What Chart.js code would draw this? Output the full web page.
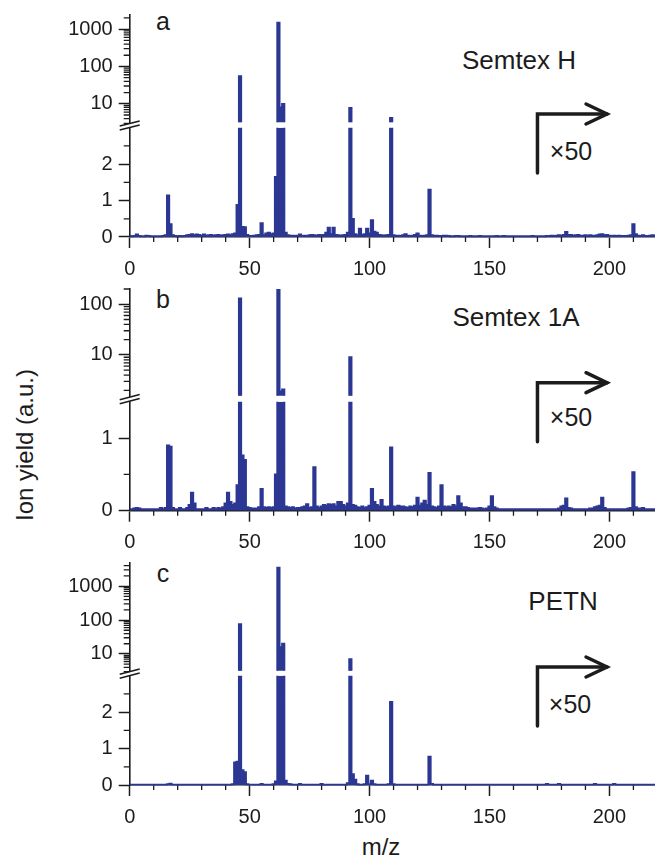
<!DOCTYPE html>
<html>
<head>
<meta charset="utf-8">
<script src="https://cdn.jsdelivr.net/npm/chart.js@4.4.1/dist/chart.umd.min.js"></script>
<style>
  html, body { margin: 0; padding: 0; background: #fff; }
  #fig { position: relative; width: 655px; height: 859px; overflow: hidden;
         font-family: "Liberation Sans", Arial, sans-serif; color: #1c1c1c; }
  #fig canvas { position: absolute; left: 0; top: 0; }
  .lbl { position: absolute; white-space: nowrap; line-height: 1; transform: translate(-50%, -50%); }
  .ylab { font-size: 24px; transform: translate(-50%, -50%) rotate(-90deg); }
  .xlab { font-size: 24px; }
  .letter { font-size: 25px; }
  .name { font-size: 26px; }
  .mult { font-size: 25px; }
</style>
</head>
<body>
<div id="fig">
  <div class="lbl ylab" style="left:25px; top:445px;">Ion yield (a.u.)</div>
  <div class="lbl xlab" style="left:381px; top:847px;">m/z</div>

  <div class="lbl letter" style="left:163px; top:21px;">a</div>
  <div class="lbl letter" style="left:163px; top:299px;">b</div>
  <div class="lbl letter" style="left:163px; top:573px;">c</div>

  <div class="lbl name" style="left:519px; top:60px;">Semtex H</div>
  <div class="lbl name" style="left:516px; top:317px;">Semtex 1A</div>
  <div class="lbl name" style="left:563px; top:601px;">PETN</div>

  <div class="lbl mult" style="left:571px; top:151px;">×50</div>
  <div class="lbl mult" style="left:571px; top:417px;">×50</div>
  <div class="lbl mult" style="left:570px; top:704px;">×50</div>
</div>
<script>
// ion yield per integer m/z, index = m/z (0..219)
const semtexH = [
    0.03, 0.02, 0.03, 0.07, 0.03, 0.02, 0.02, 0.04, 0.03, 0.02,
    0.02, 0.02, 0.02, 0.02, 0.03, 0.05, 1.14, 0.35, 0.05, 0.03,
    0.02, 0.03, 0.02, 0.03, 0.05, 0.06, 0.08, 0.05, 0.07, 0.06,
    0.04, 0.07, 0.04, 0.05, 0.06, 0.04, 0.05, 0.06, 0.04, 0.05,
    0.06, 0.07, 0.05, 0.08, 0.1, 0.88, 55, 0.28, 0.27, 0.06,
    0.03, 0.03, 0.04, 0.05, 0.06, 0.38, 0.05, 0.1, 0.12, 0.08,
    0.1, 1.65, 1500, 8, 10, 0.12, 0.05, 0.04, 0.04, 0.03,
    0.04, 0.07, 0.03, 0.04, 0.03, 0.05, 0.06, 0.05, 0.04, 0.06,
    0.05, 0.06, 0.12, 0.26, 0.08, 0.26, 0.06, 0.05, 0.04, 0.05,
    0.06, 0.12, 7.8, 0.5, 0.08, 0.05, 0.23, 0.06, 0.08, 0.23,
    0.1, 0.46, 0.15, 0.12, 0.06, 0.05, 0.04, 0.05, 0.06, 4.2,
    0.05, 0.04, 0.04, 0.03, 0.05, 0.08, 0.04, 0.03, 0.04, 0.06,
    0.1, 0.04, 0.03, 0.04, 0.05, 1.3, 0.05, 0.04, 0.04, 0.03,
    0.03, 0.04, 0.04, 0.03, 0.02, 0.02, 0.03, 0.03, 0.02, 0.02,
    0.02, 0.02, 0.03, 0.02, 0.02, 0.02, 0.03, 0.02, 0.02, 0.02,
    0.02, 0.02, 0.02, 0.03, 0.02, 0.02, 0.03, 0.02, 0.02, 0.02,
    0.02, 0.02, 0.02, 0.02, 0.02, 0.02, 0.02, 0.02, 0.03, 0.02,
    0.02, 0.02, 0.02, 0.02, 0.03, 0.03, 0.04, 0.03, 0.04, 0.05,
    0.04, 0.06, 0.14, 0.06, 0.06, 0.04, 0.05, 0.06, 0.04, 0.04,
    0.05, 0.04, 0.05, 0.04, 0.04, 0.05, 0.07, 0.08, 0.05, 0.06,
    0.04, 0.03, 0.04, 0.03, 0.04, 0.03, 0.03, 0.03, 0.04, 0.05,
    0.35, 0.08, 0.04, 0.03, 0.05, 0.03, 0.03, 0.04, 0.05, 0.04
];
const semtex1A = [
    0.02, 0.02, 0.03, 0.04, 0.03, 0.02, 0.02, 0.02, 0.02, 0.02,
    0.02, 0.02, 0.02, 0.04, 0.02, 0.04, 0.9, 0.88, 0.04, 0.02,
    0.02, 0.04, 0.02, 0.02, 0.04, 0.08, 0.25, 0.1, 0.02, 0.02,
    0.02, 0.02, 0.04, 0.02, 0.02, 0.04, 0.02, 0.04, 0.03, 0.05,
    0.1, 0.25, 0.12, 0.08, 0.1, 0.35, 130, 0.76, 0.7, 0.05,
    0.04, 0.03, 0.03, 0.03, 0.05, 0.3, 0.05, 0.04, 0.05, 0.04,
    0.05, 0.5, 230, 1.9, 2.1, 0.06, 0.05, 0.04, 0.05, 0.03,
    0.04, 0.04, 0.05, 0.06, 0.09, 0.04, 0.05, 0.6, 0.06, 0.04,
    0.06, 0.08, 0.07, 0.09, 0.08, 0.09, 0.06, 0.12, 0.12, 0.08,
    0.06, 0.1, 9, 0.08, 0.07, 0.05, 0.04, 0.06, 0.04, 0.05,
    0.07, 0.3, 0.12, 0.08, 0.06, 0.15, 0.06, 0.05, 0.06, 0.87,
    0.06, 0.05, 0.07, 0.06, 0.06, 0.05, 0.04, 0.06, 0.05, 0.07,
    0.18, 0.07, 0.1, 0.14, 0.08, 0.52, 0.06, 0.05, 0.04, 0.06,
    0.35, 0.06, 0.05, 0.06, 0.05, 0.08, 0.06, 0.2, 0.1, 0.05,
    0.05, 0.04, 0.03, 0.03, 0.03, 0.03, 0.04, 0.03, 0.02, 0.03,
    0.06, 0.2, 0.05, 0.03, 0.02, 0.02, 0.02, 0.02, 0.02, 0.02,
    0.02, 0.02, 0.02, 0.02, 0.02, 0.02, 0.02, 0.02, 0.02, 0.02,
    0.02, 0.02, 0.02, 0.02, 0.02, 0.02, 0.02, 0.02, 0.02, 0.03,
    0.06, 0.07, 0.17, 0.04, 0.03, 0.02, 0.02, 0.02, 0.02, 0.02,
    0.02, 0.02, 0.03, 0.03, 0.05, 0.06, 0.07, 0.18, 0.04, 0.02,
    0.02, 0.02, 0.02, 0.02, 0.02, 0.02, 0.02, 0.02, 0.03, 0.04,
    0.53, 0.05, 0.03, 0.03, 0.04, 0.02, 0.02, 0.02, 0.02, 0.02
];
const petn = [
    0.01, 0.01, 0.01, 0.01, 0.01, 0.01, 0.01, 0.01, 0.01, 0.01,
    0.01, 0.01, 0.01, 0.01, 0.01, 0.01, 0.02, 0.04, 0.01, 0.01,
    0.01, 0.01, 0.01, 0.01, 0.01, 0.01, 0.01, 0.01, 0.01, 0.01,
    0.01, 0.01, 0.01, 0.01, 0.01, 0.01, 0.01, 0.01, 0.01, 0.01,
    0.01, 0.01, 0.01, 0.02, 0.62, 0.64, 76, 0.41, 0.35, 0.02,
    0.01, 0.01, 0.01, 0.01, 0.01, 0.03, 0.01, 0.01, 0.01, 0.01,
    0.02, 0.1, 3500, 16, 20, 0.12, 0.03, 0.02, 0.01, 0.01,
    0.01, 0.03, 0.01, 0.01, 0.01, 0.01, 0.01, 0.01, 0.01, 0.01,
    0.03, 0.01, 0.01, 0.01, 0.01, 0.01, 0.01, 0.01, 0.01, 0.01,
    0.01, 0.05, 7, 0.3, 0.15, 0.02, 0.01, 0.01, 0.02, 0.26,
    0.02, 0.12, 0.02, 0.01, 0.01, 0.01, 0.01, 0.01, 0.02, 2.28,
    0.02, 0.01, 0.01, 0.01, 0.01, 0.01, 0.01, 0.01, 0.01, 0.01,
    0.01, 0.01, 0.01, 0.01, 0.01, 0.78, 0.03, 0.01, 0.01, 0.01,
    0.01, 0.01, 0.01, 0.01, 0.01, 0.01, 0.01, 0.01, 0.01, 0.01,
    0.01, 0.01, 0.01, 0.01, 0.01, 0.01, 0.01, 0.01, 0.01, 0.01,
    0.01, 0.01, 0.01, 0.01, 0.01, 0.01, 0.01, 0.01, 0.01, 0.01,
    0.01, 0.01, 0.01, 0.01, 0.01, 0.01, 0.01, 0.01, 0.01, 0.01,
    0.01, 0.01, 0.01, 0.01, 0.03, 0.01, 0.01, 0.01, 0.01, 0.03,
    0.01, 0.01, 0.01, 0.01, 0.01, 0.01, 0.01, 0.01, 0.01, 0.01,
    0.01, 0.01, 0.01, 0.01, 0.03, 0.01, 0.01, 0.01, 0.01, 0.01,
    0.01, 0.01, 0.03, 0.01, 0.01, 0.01, 0.01, 0.01, 0.01, 0.01,
    0.01, 0.01, 0.01, 0.01, 0.01, 0.01, 0.01, 0.01, 0.01, 0.01
];

// axis ticks
const xMajorTicks = [0, 50, 100, 150, 200];
const xMinorTicks = [10, 20, 30, 40, 60, 70, 80, 90, 110, 120, 130, 140, 160, 170, 180, 190, 210];
const logMajorTicks = [10, 100, 1000];
const logMinorTicks = [2, 3, 4, 5, 6, 7, 8, 9, 20, 30, 40, 50, 60, 70, 80, 90,
                       200, 300, 400, 500, 600, 700, 800, 900, 2000, 3000, 4000];
const linMajorTicks3 = [0, 1, 2];
const linMinorTicks3 = [0.5, 1.5, 2.5];
const linMajorTicks15 = [0, 1];
const linMinorTicks15 = [0.5];

// x50 arrow span (m/z)
const arrowFromMz = 170;
const arrowToMz = 199;

const BLUE = '#2c3794';
const INK = '#1c1c1c';
const FIG_W = 655;
const FIG_H = 859;
const AXIS_X = 129.7;   // y axis position
const X_AXIS_H = 45;
const TICK_FONT = { family: '"Liberation Sans", Arial, sans-serif', size: 20 };

// layout of each panel: log part on top, linear part below (page px)
const panels = [
    { values: semtexH, logMin: 3, logMax: 2400, linMax: 3,
      linMajor: linMajorTicks3, linMinor: linMinorTicks3,
      upper: [15, 123.3], lower: [127.7, 237], arrowY: 114 },
    { values: semtex1A, logMin: 1.5, logMax: 200, linMax: 1.5,
      linMajor: linMajorTicks15, linMinor: linMinorTicks15,
      upper: [289, 396.7], lower: [401.7, 510.7], arrowY: 382.7 },
    { values: petn, logMin: 3, logMax: 4800, linMax: 3,
      linMajor: linMajorTicks3, linMinor: linMinorTicks3,
      upper: [563, 671.7], lower: [675.7, 785], arrowY: 667 }
];

Chart.defaults.font.family = TICK_FONT.family;
Chart.defaults.color = INK;

// short ticks between the labelled ones
const minorTicks = {
    id: 'minorTicks',
    beforeDatasetsDraw(chart, args, opts) {
        const ctx = chart.ctx;
        ctx.save();
        ctx.strokeStyle = INK;
        ctx.lineWidth = 1.3;
        ctx.beginPath();
        const y = chart.scales.y;
        (opts.y || []).forEach(v => {
            if (v < y.min || v > y.max) return;
            const py = y.getPixelForValue(v);
            ctx.moveTo(y.right - 6, py);
            ctx.lineTo(y.right, py);
        });
        const x = chart.scales.x;
        (opts.x || []).forEach(v => {
            const px = x.getPixelForValue(v);
            ctx.moveTo(px, x.top);
            ctx.lineTo(px, x.top + 5);
        });
        ctx.stroke();
        ctx.restore();
    }
};

// "//" on the y axis and the x50 arrow
const panelMarks = {
    id: 'panelMarks',
    afterDraw(chart, args, opts) {
        const ctx = chart.ctx;
        const area = chart.chartArea;
        const mid = (opts.breakY + area.top) / 2;
        ctx.save();
        ctx.strokeStyle = INK;
        ctx.lineWidth = 1.6;
        ctx.beginPath();
        [-2, 2].forEach(d => {
            ctx.moveTo(area.left - 10, mid + d + 2.6);
            ctx.lineTo(area.left + 10, mid + d - 2.6);
        });
        ctx.stroke();

        const x = chart.scales.x;
        const x0 = x.getPixelForValue(arrowFromMz);
        const x1 = x.getPixelForValue(arrowToMz);
        const y0 = opts.arrowY;
        ctx.lineWidth = 3.5;
        ctx.lineJoin = 'miter';
        ctx.lineCap = 'round';
        ctx.beginPath();
        ctx.moveTo(x0, y0 + 59);
        ctx.lineTo(x0, y0);
        ctx.lineTo(x1, y0);
        ctx.stroke();
        ctx.beginPath();
        ctx.moveTo(x1 - 21, y0 - 10);
        ctx.lineTo(x1, y0);
        ctx.lineTo(x1 - 21, y0 + 10);
        ctx.stroke();
        ctx.restore();
    }
};

function addCanvas() {
    const c = document.createElement('canvas');
    c.width = FIG_W;
    c.height = FIG_H;
    document.getElementById('fig').appendChild(c);
    return c;
}

function yAxisFit(scale) {
    scale.width = AXIS_X;
    scale.paddingTop = 0;
    scale.paddingBottom = 0;
}

// only keep the listed ticks that fall inside the axis range
function tickList(values) {
    return scale => {
        scale.ticks = values.filter(v => v >= scale.min && v <= scale.max).map(v => ({ value: v }));
    };
}

function spectrumDataset(values, fill, clip) {
    return {
        data: values.map((y, mz) => ({ x: mz, y: y })),
        borderColor: BLUE,
        backgroundColor: BLUE,
        borderWidth: 1.8,
        pointRadius: 0,
        stepped: 'middle',
        fill: fill,
        clip: clip
    };
}

function axisStyle() {
    return {
        grid: { drawOnChartArea: false, tickLength: 11, tickWidth: 1.5, tickColor: INK },
        border: { color: INK, width: 1.6 }
    };
}

panels.forEach(p => {
    // log part
    new Chart(addCanvas(), {
        type: 'line',
        data: { datasets: [spectrumDataset(p.values, 'start', { left: 0, top: 0, right: 0, bottom: -1 })] },
        options: {
            responsive: false,
            animation: false,
            devicePixelRatio: 1,
            events: [],
            layout: { padding: { left: 0, right: 0, top: p.upper[0], bottom: FIG_H - p.upper[1] } },
            plugins: { legend: { display: false }, tooltip: { enabled: false },
                       minorTicks: { y: logMinorTicks } },
            scales: {
                x: { type: 'linear', min: 0, max: 219, display: false },
                y: {
                    type: 'logarithmic', min: p.logMin, max: p.logMax, bounds: 'data',
                    afterBuildTicks: tickList(logMajorTicks),
                    afterFit: yAxisFit,
                    ticks: { font: TICK_FONT, padding: 6, callback: v => String(v) },
                    ...axisStyle()
                }
            }
        },
        plugins: [minorTicks]
    });

    // linear part with x axis
    new Chart(addCanvas(), {
        type: 'line',
        data: { datasets: [spectrumDataset(p.values, 'origin', { left: 0, top: 0, right: 0, bottom: 3 })] },
        options: {
            responsive: false,
            animation: false,
            devicePixelRatio: 1,
            events: [],
            layout: { padding: { left: 0, right: 0, top: p.lower[0], bottom: FIG_H - p.lower[1] - X_AXIS_H } },
            plugins: { legend: { display: false }, tooltip: { enabled: false },
                       minorTicks: { x: xMinorTicks, y: p.linMinor },
                       panelMarks: { breakY: p.upper[1], arrowY: p.arrowY } },
            scales: {
                x: {
                    type: 'linear', min: 0, max: 219, bounds: 'data',
                    afterBuildTicks: tickList(xMajorTicks),
                    afterFit: s => { s.height = X_AXIS_H; s.paddingLeft = 0; s.paddingRight = 0; },
                    ticks: { font: TICK_FONT, padding: 9, maxRotation: 0, autoSkip: false },
                    ...axisStyle()
                },
                y: {
                    type: 'linear', min: 0, max: p.linMax, bounds: 'data',
                    afterBuildTicks: tickList(p.linMajor),
                    afterFit: yAxisFit,
                    ticks: { font: TICK_FONT, padding: 6 },
                    ...axisStyle()
                }
            }
        },
        plugins: [minorTicks, panelMarks]
    });
});
</script>
</body>
</html>
